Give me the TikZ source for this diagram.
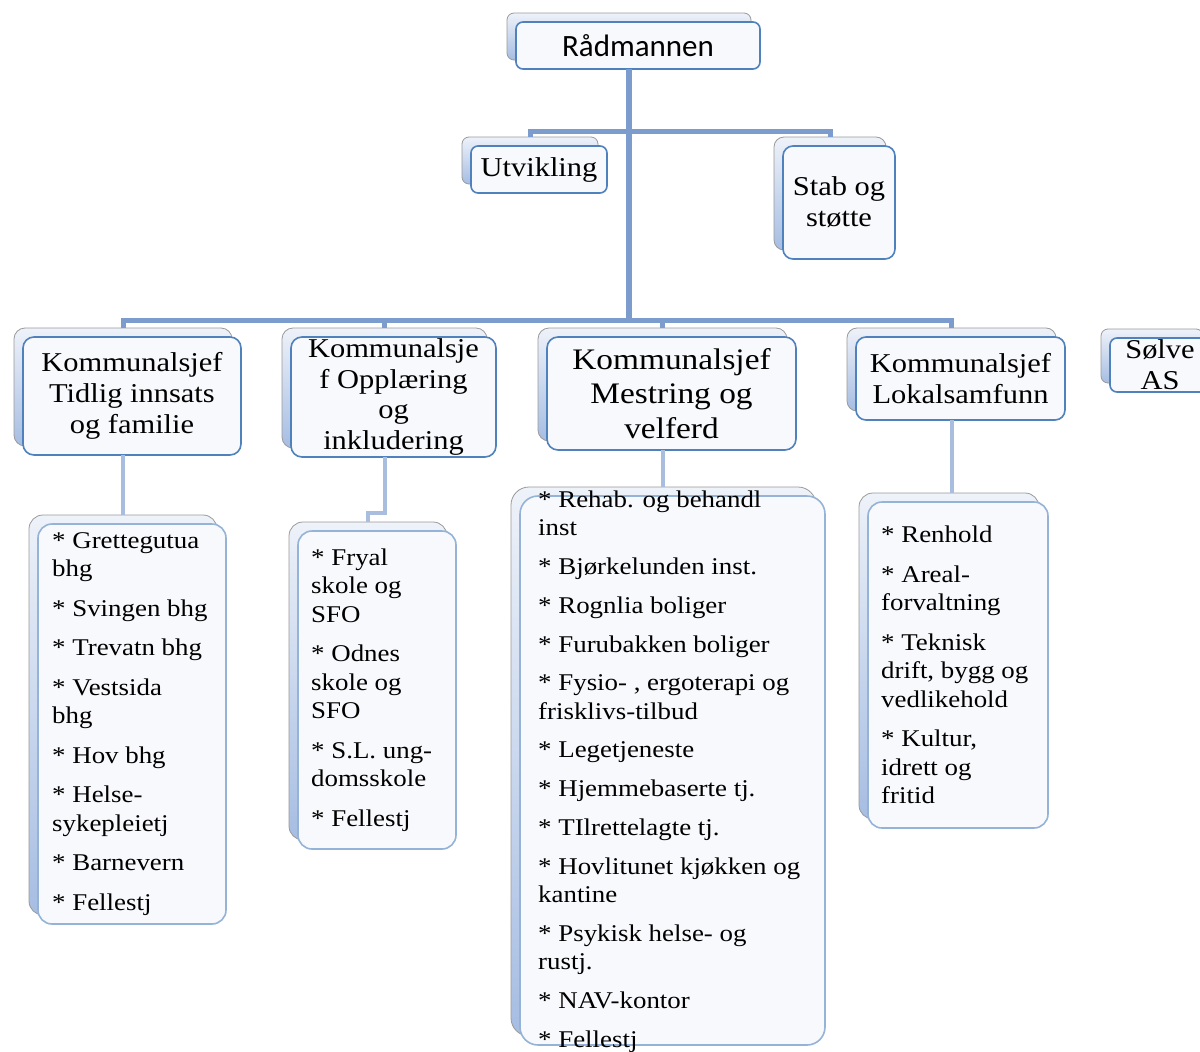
\documentclass[tikz,border=0pt]{standalone}
\usepackage{fontspec}
\setmainfont{Liberation Serif}[FakeStretch=1.12]
\newfontfamily\calfont{Carlito}
\definecolor{shgray}{HTML}{9A9A9A}
\definecolor{shtop}{HTML}{EEF2F9}
\definecolor{shbot}{HTML}{A6BDE2}
\definecolor{frfill}{HTML}{F8F9FC}
\definecolor{bdark}{HTML}{4F81BD}
\definecolor{blight}{HTML}{95B3D7}
\definecolor{cu}{HTML}{7C9CCD}
\definecolor{cl}{HTML}{A9BDDF}
\tikzset{
  shbox/.style={draw=shgray, line width=0.8pt, top color=shtop, bottom color=shbot, inner sep=0pt, outer sep=0pt},
  frbox/.style={fill=frfill, line width=1.6pt, inner sep=0pt, outer sep=0pt},
  trunk/.style={draw=cu, line width=5.5pt},
  connU/.style={draw=cu, line width=5pt},
  connL/.style={draw=cl, line width=4pt},
  midtxt/.style={align=center, inner sep=0pt, font={\fontsize{27.2}{30.8}\selectfont}},
  listtxt/.style={align=left, inner sep=0pt, anchor=west, font={\fontsize{24}{28.5}\selectfont}},
}
\newcommand{\obox}[7]{%
  \node[shbox, rounded corners=#7, minimum width={(#4)-(#2)}, minimum height={(#5)-(#3)}] (#1-s) at ({(#2+#4)/2-9},{(#3+#5)/2-9}) {};
  \node[frbox, draw=#6, rounded corners=#7, minimum width={(#4)-(#2)}, minimum height={(#5)-(#3)}] (#1) at ({(#2+#4)/2},{(#3+#5)/2}) {};
}
\begin{document}
\begin{tikzpicture}[x=1pt, y=-1pt]
\clip (0,0) rectangle (1200,1052);
\fill[white] (0,0) rectangle (1200,1052);
% boxes
\obox{rad}{516}{22}{760}{69}{bdark}{7pt}
\obox{utv}{471}{146}{607}{193}{bdark}{7pt}
\obox{stab}{783}{146}{895}{259}{bdark}{10pt}
\obox{k1}{23}{337}{241}{455}{bdark}{11pt}
\obox{k2}{291}{337}{496}{457}{bdark}{11pt}
\obox{k3}{547}{337}{796}{450}{bdark}{11pt}
\obox{k4}{856}{337}{1065}{420}{bdark}{10pt}
\obox{solve}{1110}{338}{1212}{392}{bdark}{7pt}
\obox{l1}{38}{524}{226}{924}{blight}{14pt}
\obox{l2}{298}{531}{456}{849}{blight}{14pt}
\obox{l3}{520}{496}{825}{1045}{blight}{18pt}
\obox{l4}{868}{502}{1048}{828}{blight}{14pt}
% connectors
\coordinate (top) at (630,131);
\coordinate (bus) at (630,320);
\coordinate (j2) at (368,513);
\draw[trunk] (rad-s.center |- rad.south) -- (rad-s.center |- bus);
\draw[connU] (utv-s.north) -- (utv-s.north |- top) -- (stab-s.north |- top) -- (stab-s.north);
\draw[connU] (k1-s.north) -- (k1-s.north |- bus) -- (k4-s.north |- bus) -- (k4-s.north);
\draw[connU] (k2-s.north) -- (k2-s.north |- bus);
\draw[connU] (k3-s.north) -- (k3-s.north |- bus);
\draw[connL] (k1-s.center |- k1.south) -- (k1-s.center |- l1-s.north);
\draw[connL] (k2-s.center |- k2.south) |- (j2) -- (j2 |- l2-s.north);
\draw[connL] (k3-s.center |- k3.south) -- (k3-s.center |- l3-s.north);
\draw[connL] (k4-s.center |- k4.south) -- (k4-s.center |- l4-s.north);
% texts
\node[inner sep=0pt, font={\calfont\fontsize{31}{36}\selectfont}] (rad-t) at (rad.center) {Rådmannen};
\node[midtxt] (utv-t) at (utv.center) {Utvikling};
\node[midtxt] (stab-t) at (stab.center) {Stab og\\støtte};
\node[midtxt] (k1-t) at (k1.center) {Kommunalsjef\\Tidlig innsats\\og familie};
\node[midtxt] (k2-t) at (k2.center) {Kommunalsje\\f Opplæring\\og\\inkludering};
\node[midtxt, font={\fontsize{29.8}{34.5}\selectfont}] (k3-t) at (k3.center) {Kommunalsjef\\Mestring og\\velferd};
\node[midtxt] (k4-t) at (k4.center) {Kommunalsjef\\Lokalsamfunn};
\node[midtxt] (solve-t) at (1160,365) {Sølve\\AS};
\node[listtxt] (l1-t) at ([xshift=14pt]l1.west) {* Grettegutua\\bhg\\[11pt]* Svingen bhg\\[11pt]* Trevatn bhg\\[11pt]* Vestsida\\bhg\\[11pt]* Hov bhg\\[11pt]* Helse-\\sykepleietj\\[11pt]* Barnevern\\[11pt]* Fellestj};
\node[listtxt] (l2-t) at ([xshift=13pt]l2.west) {* Fryal\\skole og\\SFO\\[11pt]* Odnes\\skole og\\SFO\\[11pt]* S.L. ung-\\domsskole\\[11pt]* Fellestj};
\node[listtxt, font={\fontsize{24}{28.2}\selectfont}] (l3-t) at ([xshift=18pt, yshift=-1pt]l3.west) {* Rehab. og behandl\\inst\\[10.6pt]* Bjørkelunden inst.\\[10.6pt]* Rognlia boliger\\[10.6pt]* Furubakken boliger\\[10.6pt]* Fysio- , ergoterapi og\\frisklivs-tilbud\\[10.6pt]* Legetjeneste\\[10.6pt]* Hjemmebaserte tj.\\[10.6pt]* TIlrettelagte tj.\\[10.6pt]* Hovlitunet kjøkken og\\kantine\\[10.6pt]* Psykisk helse- og\\rustj.\\[10.6pt]* NAV-kontor\\[10.6pt]* Fellestj};
\node[listtxt] (l4-t) at ([xshift=13pt]l4.west) {* Renhold\\[11pt]* Areal-\\forvaltning\\[11pt]* Teknisk\\drift, bygg og\\vedlikehold\\[11pt]* Kultur,\\idrett og\\fritid};
\end{tikzpicture}
\end{document}
